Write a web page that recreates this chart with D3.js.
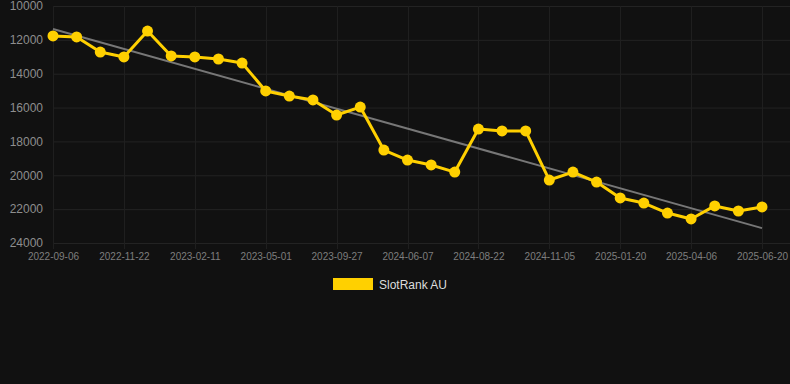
<!DOCTYPE html>
<html>
<head>
<meta charset="utf-8">
<script src="https://cdn.jsdelivr.net/npm/d3@7"></script>
<style>
  html, body { margin: 0; padding: 0; background: #111111; }
  #chart { width: 790px; height: 384px; }
</style>
</head>
<body>
<div id="chart"></div>
<script>
// dates along the x axis (one every point), only every 3rd is labelled
const dates = [
  "2022-09-06", "2022-10-01", "2022-10-27", "2022-11-22", "2022-12-17", "2023-01-12",
  "2023-02-11", "2023-03-08", "2023-04-03", "2023-05-01", "2023-06-15", "2023-08-10",
  "2023-09-27", "2023-11-20", "2024-03-01", "2024-06-07", "2024-07-02", "2024-07-27",
  "2024-08-22", "2024-09-16", "2024-10-11", "2024-11-05", "2024-11-30", "2024-12-25",
  "2025-01-20", "2025-02-14", "2025-03-11", "2025-04-06", "2025-05-01", "2025-05-26",
  "2025-06-20"
];

const rank = [
  11770, 11830, 12720, 13010, 11480, 12950,
  13010, 13130, 13370, 15020, 15320, 15550,
  16440, 15970, 18510, 19100, 19390, 19810,
  17270, 17380, 17380, 20280, 19810, 20400,
  21340, 21640, 22230, 22580, 21810, 22110,
  21870
];

const yTicks = [10000, 12000, 14000, 16000, 18000, 20000, 22000, 24000];
const seriesName = "SlotRank AU";

let dim = { width: 790, height: 384 };
let margin = { top: 6, right: 0, bottom: 141, left: 53 };
const lastX = 762;

let svg = d3.select('#chart').append('svg')
  .attr('width', dim.width)
  .attr('height', dim.height)
  .style('background', '#111111');

let x = d3.scalePoint()
  .domain(dates)
  .range([margin.left, lastX]);

let y = d3.scaleLinear()
  .domain([10000, 24000])
  .range([margin.top, dim.height - margin.bottom]);

const labelled = dates.filter((d, i) => i % 3 == 0);

// grid
svg.append('g')
  .selectAll('line')
  .data(yTicks)
  .join('line')
  .attr('x1', margin.left).attr('x2', dim.width)
  .attr('y1', d => y(d) + 0.5).attr('y2', d => y(d) + 0.5)
  .attr('stroke', '#232323');

svg.append('g')
  .selectAll('line')
  .data(labelled)
  .join('line')
  .attr('x1', d => Math.round(x(d)) + 0.5).attr('x2', d => Math.round(x(d)) + 0.5)
  .attr('y1', margin.top).attr('y2', y(24000) + 6)
  .attr('stroke', '#1f1f1f');

// axes
let yAxis = svg.append('g')
  .attr('transform', `translate(${margin.left},0)`)
  .call(d3.axisLeft(y).tickValues(yTicks).tickSize(0).tickPadding(10).tickFormat(d3.format('d')));
yAxis.select('.domain').remove();
yAxis.selectAll('text')
  .attr('fill', '#8e8e8e')
  .style('font-family', 'Liberation Sans, Arial, sans-serif')
  .style('font-size', '12px');

let xAxis = svg.append('g')
  .attr('transform', `translate(0,${y(24000)})`)
  .call(d3.axisBottom(x).tickValues(labelled).tickSize(0).tickPadding(10));
xAxis.select('.domain').remove();
xAxis.selectAll('text')
  .attr('fill', '#7e7e7e')
  .style('font-family', 'Liberation Sans, Arial, sans-serif')
  .style('font-size', '10px');

// trend line (least squares on index)
let n = rank.length;
let mx = d3.mean(rank, (d, i) => i);
let my = d3.mean(rank);
let slope = d3.sum(rank, (d, i) => (i - mx) * (d - my)) / d3.sum(rank, (d, i) => (i - mx) * (i - mx));
let icpt = my - slope * mx;

svg.append('line')
  .attr('x1', x(dates[0])).attr('y1', y(icpt))
  .attr('x2', x(dates[n - 1])).attr('y2', y(icpt + slope * (n - 1)))
  .attr('stroke', '#777777')
  .attr('stroke-width', 2);

// series
let line = d3.line()
  .x((d, i) => x(dates[i]))
  .y(d => y(d));

svg.append('path')
  .datum(rank)
  .attr('d', line)
  .attr('fill', 'none')
  .attr('stroke', '#FFD000')
  .attr('stroke-width', 3)
  .attr('stroke-linejoin', 'round');

svg.append('g')
  .selectAll('circle')
  .data(rank)
  .join('circle')
  .attr('cx', (d, i) => x(dates[i]))
  .attr('cy', d => y(d))
  .attr('r', 5.5)
  .attr('fill', '#FFD000');

// legend
let legend = svg.append('g').attr('transform', 'translate(333,278)');
legend.append('rect')
  .attr('width', 40).attr('height', 12)
  .attr('fill', '#FFD000');
legend.append('text')
  .attr('x', 46).attr('y', 10.5)
  .attr('fill', '#dddddd')
  .style('font-family', 'Liberation Sans, Arial, sans-serif')
  .style('font-size', '12px')
  .text(seriesName);
</script>
</body>
</html>
